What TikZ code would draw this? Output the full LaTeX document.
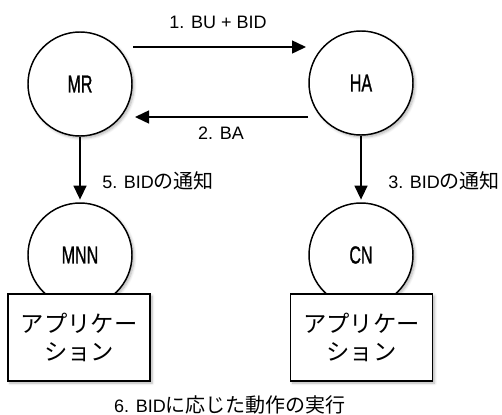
\documentclass[tikz,border=0pt]{standalone}
\usepackage{fontspec}
\setmainfont{Liberation Sans}
\newfontfamily\jp{Noto Sans CJK JP}
\usetikzlibrary{arrows.meta,shadows.blur}
% condensed lettering for the node names
\newcommand{\nodename}[1]{\scalebox{0.65}[1]{\fontsize{18.5}{20}\selectfont\addfontfeature{FakeBold=1.2}#1}}
% Japanese inside the message labels runs a little larger than the Latin
\newcommand{\ja}[1]{{\jp\fontsize{15}{17}\selectfont #1}}
\begin{document}
\begin{tikzpicture}[x=0.75pt,y=-0.75pt,
  shade/.style={blur shadow={shadow xshift=1.5pt,shadow yshift=-1.5pt,shadow opacity=30,shadow blur steps=6,shadow blur radius=2pt}},
  entity/.style={circle,draw,line width=1.1pt,fill=white,minimum size=78pt,inner sep=0pt,shade},
  appbox/.style={rectangle,draw,line width=1.1pt,fill=white,minimum width=106.5pt,minimum height=65.25pt,
    align=center,inner sep=0pt,font=\jp\fontsize{17.5}{20.5}\selectfont,shade},
  msg/.style={-{Triangle[length=10.5pt,width=9.75pt]},line width=1.1pt},
  lbl/.style={font=\fontsize{13.5}{16}\selectfont,inner sep=0pt}]
\useasboundingbox (0,0) rectangle (502,414);

% hosts
\node[entity] (MR) at (80,84) {\nodename{MR}};
\node[entity] (HA) at (361,83) {\nodename{HA}};
\node[entity] (MNN) at (80,255) {\nodename{MNN}};
\node[entity] (CN) at (361,255) {\nodename{CN}};

% applications sitting on the end hosts
\node[appbox] (appM) at (79,337.5) {アプリケー\\ション};
\node[appbox] (appC) at (361.5,337.5) {アプリケー\\ション};

% binding update / acknowledgement
\coordinate (buS) at (133,47);
\coordinate (buE) at (306,47);
\coordinate (baS) at (308,117);
\coordinate (baE) at (135,117);
\draw[msg] (buS) -- (buE);
\draw[msg] (baS) -- (baE);
\draw[msg,shorten >=2pt] (MR) -- (MNN);
\draw[msg,shorten >=2pt] (HA) -- (CN);

% message labels
\node[lbl] (l1) at (218,22) {1. BU + BID};
\node[lbl] (l2) at (221,133) {2. BA};
\node[lbl,anchor=west] (l5) at (102,181) {5. BID\ja{の通知}};
\node[lbl,anchor=west] (l3) at (388,181) {3. BID\ja{の通知}};
\node[lbl] (l6) at (230,404.5) {6. BID\ja{に応じた動作の実行}};
\end{tikzpicture}
\end{document}
